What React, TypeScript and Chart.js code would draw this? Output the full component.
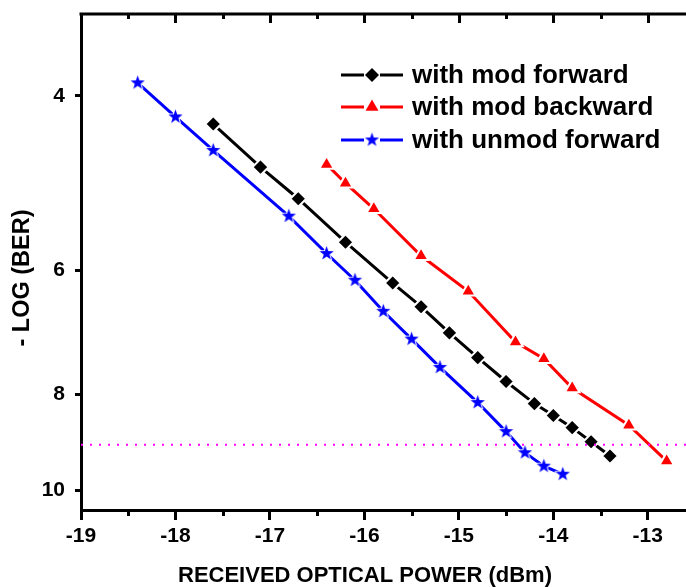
import React, { useEffect, useRef } from 'react';
import { Chart, registerables } from 'chart.js';

Chart.register(...registerables);

// ---- data ----
const xModFwd = [-17.6, -17.1, -16.7, -16.2, -15.7, -15.4, -15.1, -14.8, -14.5, -14.2, -14.0, -13.8, -13.6, -13.4];
const yModFwd = [4.27, 4.72, 5.08, 5.62, 6.18, 6.53, 6.94, 7.35, 7.77, 8.18, 8.41, 8.65, 8.94, 9.24];

const xModBwd = [-16.4, -16.2, -15.9, -15.4, -14.9, -14.4, -14.1, -13.8, -13.2, -12.8];
const yModBwd = [4.69, 4.9, 5.2, 5.8, 6.3, 7.09, 7.37, 7.89, 8.6, 9.35];

const xUnmod = [-18.4, -18.0, -17.6, -16.8, -16.4, -16.1, -15.8, -15.5, -15.2, -14.8, -14.5, -14.3, -14.1, -13.9];
const yUnmod = [3.88, 4.2, 4.54, 5.29, 5.77, 6.14, 6.6, 7.04, 7.52, 8.16, 8.73, 9.17, 9.46, 9.64];

const thresholdX = [-19, -12.5];
const thresholdY = 9;

const yTickValues = [4, 6, 8, 10];
const seriesLabels = ['with mod forward', 'with mod backward', 'with unmod forward'];
const xTitle = 'RECEIVED OPTICAL POWER (dBm)';
const yTitle = '- LOG (BER)';

const FONT = '"Liberation Sans", Arial, sans-serif';

function makeStar(color: string, outer: number, inner: number, stroke: number) {
  const size = Math.ceil(2 * (outer + stroke)) + 2;
  const c = document.createElement('canvas');
  c.width = size;
  c.height = size;
  const ctx = c.getContext('2d')!;
  ctx.translate(size / 2, size / 2);
  ctx.beginPath();
  for (let i = 0; i < 10; i++) {
    const r = i % 2 === 0 ? outer : inner;
    const a = -Math.PI / 2 + (i * Math.PI) / 5;
    ctx.lineTo(r * Math.cos(a), r * Math.sin(a));
  }
  ctx.closePath();
  if (stroke > 0) {
    ctx.lineWidth = stroke;
    ctx.strokeStyle = '#fff';
    ctx.lineJoin = 'round';
    ctx.stroke();
  }
  ctx.fillStyle = color;
  ctx.fill();
  return c;
}

function pts(xs: number[], ys: number[]) {
  return xs.map((x, i) => ({ x, y: ys[i] }));
}

export default function App() {
  const ref = useRef<HTMLCanvasElement>(null);

  useEffect(() => {
    const canvas = ref.current!;
    const star = makeStar('#0000ff', 7.5, 3, 2);
    const legendStar = makeStar('#0000ff', 7.5, 3, 0);

    const framePlugin = {
      id: 'frame',
      afterDraw(chart: any) {
        const { ctx, chartArea } = chart;
        const xs = chart.scales.x;
        const ys = chart.scales.y;
        ctx.save();
        ctx.strokeStyle = '#000';
        ctx.lineWidth = 3;
        ctx.lineCap = 'butt';
        // top & right frame
        ctx.beginPath();
        ctx.moveTo(chartArea.left - 1.5, chartArea.top);
        ctx.lineTo(chartArea.right + 1.5, chartArea.top);
        ctx.moveTo(chartArea.right, chartArea.top);
        ctx.lineTo(chartArea.right, chartArea.bottom);
        ctx.stroke();
        // ticks
        ctx.beginPath();
        for (const t of xs.ticks) {
          const v = t.value;
          const px = Math.round(xs.getPixelForValue(v)) + 0.5;
          const major = Math.abs(v - Math.round(v)) < 1e-6;
          ctx.moveTo(px, chartArea.top);
          ctx.lineTo(px, chartArea.top + (major ? 9 : 5));
          if (!major) {
            ctx.moveTo(px, chartArea.bottom);
            ctx.lineTo(px, chartArea.bottom + 6);
          }
        }
        for (const v of yTickValues) {
          const py = Math.round(ys.getPixelForValue(v)) + 0.5;
          ctx.moveTo(chartArea.right, py);
          ctx.lineTo(chartArea.right - 8, py);
        }
        ctx.stroke();

        // axis titles
        ctx.fillStyle = '#000';
        ctx.font = `bold 22px ${FONT}`;
        ctx.textAlign = 'center';
        ctx.textBaseline = 'alphabetic';
        ctx.fillText(xTitle, 365, 582);
        ctx.save();
        ctx.translate(23, 278);
        ctx.rotate(-Math.PI / 2);
        ctx.font = `bold 23.5px ${FONT}`;
        ctx.textBaseline = 'middle';
        ctx.fillText(yTitle, 0, 0);
        ctx.restore();

        // legend
        const rows = [75, 107, 140];
        const colors = ['#000000', '#ff0000', '#0000ff'];
        const lx0 = 341, lx1 = 403, mx = 372;
        rows.forEach((ry, i) => {
          ctx.strokeStyle = colors[i];
          ctx.lineWidth = 3;
          ctx.beginPath();
          ctx.moveTo(lx0, ry);
          ctx.lineTo(mx - 8, ry);
          ctx.moveTo(mx + 8, ry);
          ctx.lineTo(lx1, ry);
          ctx.stroke();
          ctx.fillStyle = colors[i];
          ctx.beginPath();
          if (i === 0) {
            const r = 7;
            ctx.moveTo(mx, ry - r);
            ctx.lineTo(mx + r, ry);
            ctx.lineTo(mx, ry + r);
            ctx.lineTo(mx - r, ry);
            ctx.closePath();
            ctx.fill();
          } else if (i === 1) {
            const r = 7.5;
            ctx.moveTo(mx, ry - r);
            ctx.lineTo(mx + r * 0.866, ry + r / 2);
            ctx.lineTo(mx - r * 0.866, ry + r / 2);
            ctx.closePath();
            ctx.fill();
          } else {
            ctx.drawImage(legendStar, mx - legendStar.width / 2, ry - legendStar.height / 2);
          }
          ctx.fillStyle = '#000';
          ctx.font = `bold 26px ${FONT}`;
          ctx.textAlign = 'left';
          ctx.textBaseline = 'middle';
          ctx.fillText(seriesLabels[i], 412, ry + 1);
        });
        ctx.restore();
      },
    };

    const chart = new Chart(canvas, {
      type: 'line',
      data: {
        datasets: [
          {
            label: 'threshold',
            data: thresholdX.map((x) => ({ x, y: thresholdY })),
            borderColor: '#ff00ff',
            borderWidth: 2,
            borderDash: [2, 7],
            pointRadius: 0,
            fill: false,
          },
          {
            label: seriesLabels[0],
            data: pts(xModFwd, yModFwd),
            borderColor: '#000000',
            backgroundColor: '#000000',
            borderWidth: 3,
            pointStyle: 'rectRot',
            pointRadius: 8,
            pointBorderColor: '#ffffff',
            pointBorderWidth: 2,
            pointBackgroundColor: '#000000',
            fill: false,
          },
          {
            label: seriesLabels[1],
            data: pts(xModBwd, yModBwd),
            borderColor: '#ff0000',
            backgroundColor: '#ff0000',
            borderWidth: 3,
            pointStyle: 'triangle',
            pointRadius: 8.5,
            pointBorderColor: '#ffffff',
            pointBorderWidth: 2,
            pointBackgroundColor: '#ff0000',
            fill: false,
          },
          {
            label: seriesLabels[2],
            data: pts(xUnmod, yUnmod),
            borderColor: '#0000ff',
            backgroundColor: '#0000ff',
            borderWidth: 3,
            pointStyle: star as any,
            pointRadius: 8,
            fill: false,
          },
        ],
      },
      options: {
        animation: false,
        responsive: false,
        devicePixelRatio: 1,
        layout: { padding: { left: 0, top: 14, right: 35, bottom: 0 } },
        plugins: { legend: { display: false }, tooltip: { enabled: false } },
        scales: {
          x: {
            type: 'linear',
            position: 'bottom',
            min: -19,
            max: -12.5,
            bounds: 'data',
            ticks: {
              stepSize: 0.5,
              autoSkip: false,
              maxRotation: 0,
              padding: 4,
              color: '#000',
              font: { family: FONT, size: 21, weight: 'bold' },
              callback: (v: any) => (Math.abs(v - Math.round(v)) < 1e-6 ? String(Math.round(v)) : ''),
            },
            grid: {
              display: true,
              drawOnChartArea: false,
              drawTicks: true,
              tickLength: 10,
              tickWidth: 3,
              tickColor: (c: any) => (Math.abs(c.tick.value - Math.round(c.tick.value)) < 1e-6 ? '#000' : 'rgba(0,0,0,0)'),
            },
            border: { display: true, width: 3, color: '#000' },
            afterFit: (s: any) => {
              s.height = 77;
              s.paddingLeft = 0;
              s.paddingRight = 0;
            },
          },
          y: {
            type: 'logarithmic',
            position: 'left',
            reverse: true,
            min: 3.306,
            max: 10.476,
            bounds: 'data',
            afterBuildTicks: (s: any) => {
              s.ticks = yTickValues.map((v) => ({ value: v }));
            },
            ticks: {
              autoSkip: false,
              padding: 10,
              color: '#000',
              font: { family: FONT, size: 21, weight: 'bold' },
              callback: (v: any) => String(v),
            },
            grid: {
              display: true,
              drawOnChartArea: false,
              drawTicks: true,
              tickLength: 6,
              tickWidth: 3,
              tickColor: '#000',
            },
            border: { display: true, width: 3, color: '#000' },
            afterFit: (s: any) => {
              s.width = 81;
              s.paddingTop = 0;
              s.paddingBottom = 0;
            },
          },
        },
      },
      plugins: [framePlugin],
    } as any);

    return () => chart.destroy();
  }, []);

  return (
    <div style={{ position: 'fixed', left: 0, top: 0, width: 686, height: 587, overflow: 'hidden', background: '#fff' }}>
      <canvas ref={ref} width={730} height={587} style={{ display: 'block', width: 730, height: 587 }} />
    </div>
  );
}
